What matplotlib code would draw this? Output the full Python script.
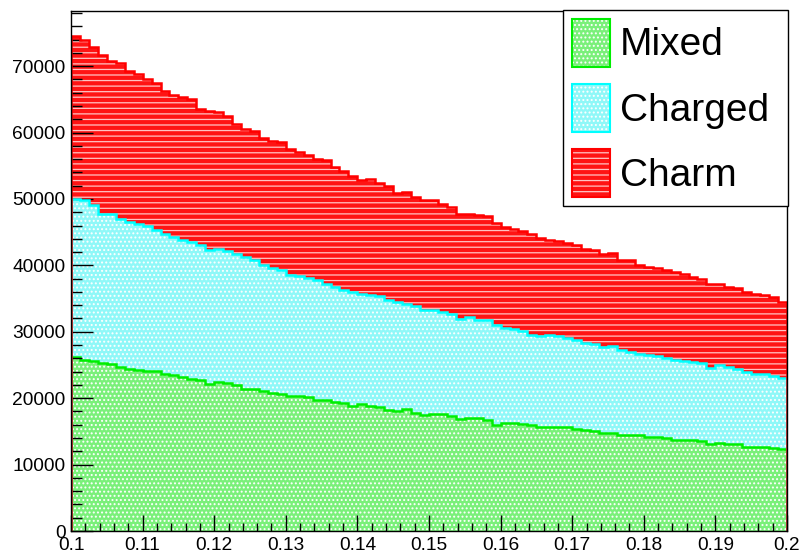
import numpy as np
import matplotlib
matplotlib.use("Agg")
import matplotlib.pyplot as plt
from matplotlib.patches import Patch
from matplotlib.legend_handler import HandlerTuple

# Histogram range and binning
x_lo, x_hi, n_bins = 0.1, 0.2, 80

# Per-bin contents of each sample
mixed = [26220, 25810, 25610, 25310, 25110, 24710, 24460, 24310, 24110, 24110,
         23610, 23460, 23200, 22960, 22710, 22210, 22410, 22310, 21950, 21310,
         21310, 21100, 20800, 20700, 20300, 20300, 20200, 19800, 19700, 19450,
         19300, 18800, 19100, 18800, 18700, 18200, 18090, 18300, 17790, 17440,
         17590, 17590, 17290, 16790, 17090, 16950, 16690, 16000, 16190, 16190,
         16100, 15940, 15690, 15700, 15640, 15600, 15300, 15190, 15100, 14790,
         14790, 14500, 14440, 14400, 14090, 14190, 13940, 13700, 13680, 13650,
         13580, 13080, 13280, 13080, 13080, 12700, 12680, 12650, 12440, 12290]

charged = [23810, 23960, 23410, 22460, 22560, 22310, 22060, 21960, 21750, 21150,
           21160, 20800, 20660, 20550, 20300, 20050, 20100, 19850, 19810, 19940,
           19440, 18900, 18850, 18550, 18200, 18050, 17950, 18050, 17440, 17290,
           16940, 17190, 16640, 16690, 16640, 16640, 16390, 15940, 16040, 15790,
           15640, 15390, 15340, 15190, 15140, 14880, 15040, 14980, 14440, 14290,
           14020, 13530, 13630, 13770, 13680, 13520, 13420, 13130, 13020, 12930,
           13030, 12820, 12530, 12320, 12480, 12130, 12180, 12110, 11930, 11810,
           11730, 11530, 11680, 11630, 11380, 11260, 11030, 10960, 10870, 10820]

charm = [24560, 24170, 23910, 23910, 23160, 23410, 22700, 22550, 22210, 22160,
         21550, 21450, 21450, 21560, 20550, 21050, 20550, 20400, 19540, 19300,
         19550, 19150, 19050, 19300, 19040, 18790, 18500, 18190, 18650, 18040,
         17940, 17540, 17040, 17440, 17090, 17040, 16390, 16780, 16440, 16540,
         16540, 16290, 16140, 15790, 15440, 15690, 15640, 15380, 15130, 15030,
         14990, 15190, 14840, 14390, 14340, 14240, 14290, 14190, 14240, 14040,
         14040, 13540, 13780, 13380, 13180, 13330, 13130, 13190, 13140, 12790,
         12690, 12640, 12180, 12030, 12180, 12030, 11930, 11880, 11930, 11370]

labels = ["Mixed", "Charged", "Charm"]
x_ticks = [0.1, 0.11, 0.12, 0.13, 0.14, 0.15, 0.16, 0.17, 0.18, 0.19, 0.2]
x_tick_labels = ["0.1", "0.11", "0.12", "0.13", "0.14", "0.15", "0.16",
                 "0.17", "0.18", "0.19", "0.2"]
y_ticks = [0, 10000, 20000, 30000, 40000, 50000, 60000, 70000]
y_max = 78300

plt.rcParams["font.family"] = ["Liberation Sans", "DejaVu Sans"]
plt.rcParams["hatch.linewidth"] = 0.9

edges = np.linspace(x_lo, x_hi, n_bins + 1)
s1 = np.array(mixed, dtype=float)
s2 = s1 + np.array(charged, dtype=float)
s3 = s2 + np.array(charm, dtype=float)

line_colors = ["#00ee00", "#00ffff", "#ff0000"]
fill_colors = ["#7af07a", "#8ff8f8", "#ff1414"]
hatch_colors = ["white", "white", "#ffc4c4"]
hatches = ["....", "....", "---"]

fig = plt.figure(figsize=(8.0, 5.54), dpi=100)
ax = fig.add_axes([71 / 800, 23 / 554, 716 / 800, 520 / 554])

tops = [s1, s2, s3]
# stacked histograms, drawn from the outermost layer inward
for i in (2, 1, 0):
    ax.stairs(tops[i], edges, baseline=0, fill=True, facecolor=fill_colors[i],
              edgecolor="none", zorder=1 + 0.1 * (2 - i))
    ax.stairs(tops[i], edges, baseline=0, fill=True, facecolor="none",
              edgecolor=hatch_colors[i], linewidth=0, hatch=hatches[i],
              zorder=1.01 + 0.1 * (2 - i))
for i in (0, 1, 2):
    ax.stairs(tops[i], edges, baseline=0, fill=False, color=line_colors[i],
              linewidth=1.8, zorder=1.5 + 0.1 * i)

ax.set_xlim(x_lo, x_hi)
ax.set_ylim(0, y_max)
ax.set_xticks(x_ticks)
ax.set_xticklabels(x_tick_labels)
ax.set_xticks(np.arange(0.1, 0.2001, 0.002), minor=True)
ax.set_yticks(y_ticks)
ax.set_yticklabels([str(v) for v in y_ticks])
ax.set_yticks(np.arange(0, y_max, 2000), minor=True)

ax.tick_params(axis="both", which="both", direction="in", width=1.0,
               colors="black", labelsize=13.8, top=False, right=False)
ax.tick_params(axis="x", which="major", length=11.2, pad=4.5)
ax.tick_params(axis="x", which="minor", length=5.6)
ax.tick_params(axis="y", which="major", length=15.5, pad=4)
ax.tick_params(axis="y", which="minor", length=7.7)
for sp in ax.spines.values():
    sp.set_linewidth(1.0)
    sp.set_zorder(5)

handles = []
for i in range(3):
    base = Patch(facecolor=fill_colors[i], edgecolor="none")
    pat = Patch(facecolor="none", edgecolor=hatch_colors[i], linewidth=0,
                hatch=hatches[i])
    rim = Patch(facecolor="none", edgecolor=line_colors[i], linewidth=1.5)
    handles.append((base, pat, rim))

# legend box spanning x 563..788 px, top at y 10 px
leg = ax.legend(handles, labels, handler_map={tuple: HandlerTuple(ndivide=1, pad=0)},
                loc="upper left", mode="expand",
                bbox_to_anchor=(563 / 800, 1 - 10 / 554, 225 / 800, 0),
                bbox_transform=fig.transFigure, borderaxespad=0,
                fontsize=28, handlelength=1.0, handleheight=1.52,
                handletextpad=0.25, labelspacing=0.45, borderpad=0.22,
                fancybox=False, framealpha=1, edgecolor="black")
leg.get_frame().set_linewidth(1.0)
leg.set_zorder(10)

fig.savefig("out.png", dpi=100)
